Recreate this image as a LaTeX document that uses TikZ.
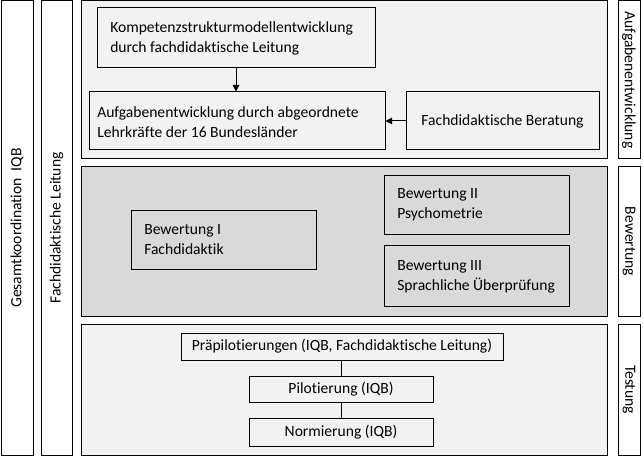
\documentclass[tikz,border=0pt]{standalone}
\usepackage{fontspec}
\setmainfont{Carlito}[Ligatures={NoCommon}]
\usetikzlibrary{fit,arrows.meta}
\definecolor{lightpanel}{HTML}{F2F2F2}
\definecolor{darkpanel}{HTML}{D9D9D9}
\tikzset{
  frame/.style={draw=black, line width=0.75pt, inner sep=0pt},
  sidebox/.style={frame, fill=white},
  lightbox/.style={frame, fill=lightpanel},
  darkbox/.style={frame, fill=darkpanel},
  txt/.style={inner sep=0pt, align=left, font=\fontsize{11.7}{15}\selectfont},
  ctxt/.style={inner sep=0pt, align=center, font=\fontsize{11.7}{15}\selectfont},
  conn/.style={draw=black, line width=0.75pt},
  arr/.style={conn, -{Triangle[length=5pt,width=5pt]}},
}
\begin{document}
\begin{tikzpicture}[x=0.75pt,y=-0.75pt]
\useasboundingbox (0,0) rectangle (643,456);
% left columns
\node[sidebox, fit={(1,1)(33,455)}] (gk) {};
\node[ctxt, rotate=90] (gkt) at (gk.center) {Gesamtkoordination\ \ IQB};
\node[sidebox, fit={(41,1)(72,455)}] (fl) {};
\node[ctxt, rotate=90] (flt) at (fl.center) {Fachdidaktische Leitung};
% panels
\node[lightbox, fit={(81,1)(607,159)}] (p1) {};
\node[darkbox, fit={(81,167)(607,316)}] (p2) {};
\node[lightbox, fit={(81,324)(607,455)}] (p3) {};
% right labels
\node[sidebox, fit={(618,1)(640,159)}] (r1) {};
\node[ctxt, rotate=-90] (r1t) at (r1.center) {Aufgabenentwicklung};
\node[sidebox, fit={(618,167)(640,316)}] (r2) {};
\node[ctxt, rotate=-90] (r2t) at (r2.center) {Bewertung};
\node[sidebox, fit={(618,324)(640,455)}] (r3) {};
\node[ctxt, rotate=-90] (r3t) at (r3.center) {Testung};
% panel 1
\node[lightbox, fit={(97,8)(375,68)}] (k) {};
\node[txt, anchor=west] (kt) at (110,38) {Kompetenzstrukturmodellentwicklung\\durch fachdidaktische Leitung};
\node[lightbox, fit={(89,92)(385,150)}] (a) {};
\node[txt, anchor=west] (at) at (97,122) {Aufgabenentwicklung durch abgeordnete\\Lehrkräfte der 16 Bundesländer};
\node[lightbox, fit={(406,92)(599,150)}] (b) {};
\node[ctxt] (bt) at (b.center) {Fachdidaktische Beratung};
\draw[arr] (k.south) -- (k.south|-a.north);
\draw[arr] (b.west) -- (a.east|-b.west);
% panel 2
\node[darkbox, fit={(131,211)(316,270)}] (b1) {};
\node[txt, anchor=west] (b1t) at (144,240) {Bewertung I\\Fachdidaktik};
\node[darkbox, fit={(384,176)(569,235)}] (b2) {};
\node[txt, anchor=west] (b2t) at (397,205) {Bewertung II\\Psychometrie};
\node[darkbox, fit={(384,246)(569,306)}] (b3) {};
\node[txt, anchor=west] (b3t) at (397,277) {Bewertung III\\Sprachliche Überprüfung};
% panel 3
\node[lightbox, fit={(181,333)(503,360)}] (t1) {};
\node[ctxt] (t1t) at (t1.center) {Präpilotierungen (IQB, Fachdidaktische Leitung)};
\node[lightbox, fit={(249,376)(433,402)}] (t2) {};
\node[ctxt] (t2t) at (t2.center) {Pilotierung (IQB)};
\node[lightbox, fit={(249,418)(433,446)}] (t3) {};
\node[ctxt] (t3t) at (t3.center) {Normierung (IQB)};
\draw[conn] (t2.north) -- (t2.north|-t1.south);
\draw[conn] (t3.north) -- (t2.south);
\end{tikzpicture}
\end{document}
